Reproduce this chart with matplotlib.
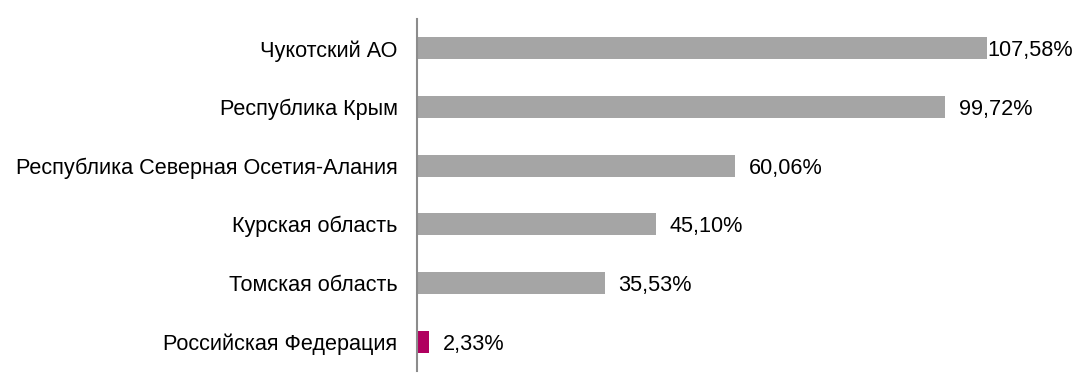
import matplotlib.pyplot as plt

regions = ['Чукотский АО', 'Республика Крым', 'Республика Северная Осетия-Алания',
           'Курская область', 'Томская область', 'Российская Федерация']
values = [107.58, 99.72, 60.06, 45.10, 35.53, 2.33]
labels = ['107,58%', '99,72%', '60,06%', '45,10%', '35,53%', '2,33%']
colors = ['#A5A5A5'] * 5 + ['#B0005F']

plt.rcParams['font.family'] = ['Liberation Sans', 'DejaVu Sans']

fig = plt.figure(figsize=(10.89, 3.87), dpi=100)
ax = fig.add_axes([417 / 1089, 16 / 387, 672 / 1089, 352 / 387])

ypos = list(range(len(regions)))[::-1]
ax.barh(ypos, values, height=0.38, color=colors)

for i, (y, v, lab) in enumerate(zip(ypos, values, labels)):
    dx = 0.5 if i == 0 else 9.5
    ax.annotate(lab, (v, y), xytext=(dx, 0), textcoords='offset points',
                va='center_baseline', ha='left', fontsize=15.6)

ax.set_xlim(0, 126.8)
ax.set_ylim(-0.5, 5.5)
ax.set_yticks(ypos)
ax.set_yticklabels(regions, fontsize=15.6)
ax.tick_params(axis='y', length=0, pad=14)
ax.set_xticks([])
for s in ['top', 'right', 'bottom']:
    ax.spines[s].set_visible(False)
ax.spines['left'].set_color('#8C8C8C')
ax.spines['left'].set_linewidth(1.5)

fig.savefig('out.png', dpi=100)
